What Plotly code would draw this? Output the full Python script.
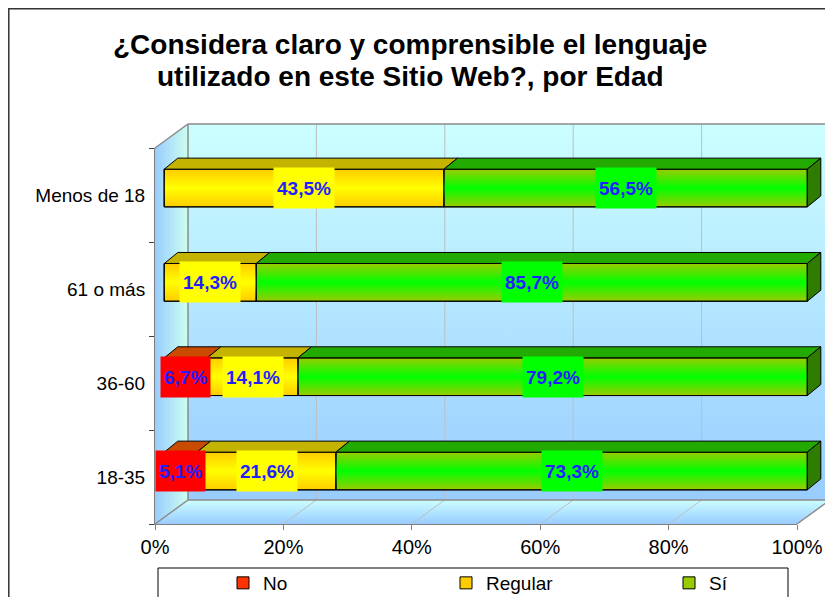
import plotly.graph_objects as go

# datos del grafico (porcentajes por grupo de edad)
categorias = ["18-35", "36-60", "61 o más", "Menos de 18"]
serie_no = [5.1, 6.7, 0.0, 0.0]
serie_regular = [21.6, 14.1, 14.3, 43.5]
serie_si = [73.3, 79.2, 85.7, 56.5]
nombres = ["No", "Regular", "Sí"]
ticks_x = [0, 20, 40, 60, 80, 100]
ticks_x_texto = ["0%", "20%", "40%", "60%", "80%", "100%"]

W, H = 833, 597
OFF = 8  # margen del <body> de la pagina

# geometria del "cubo" 3D en pixeles de pagina
FRONT_L, FRONT_R = 155, 797
FRONT_T, FRONT_B = 148, 524
DX, DY = 33, -24
BACK_L, BACK_R = FRONT_L + DX, FRONT_R + DX
BACK_T, BACK_B = FRONT_T + DY, FRONT_B + DY

# escala de las barras (pixel de 0% y pixeles por punto porcentual)
BAR0 = 164.3
PXU = 6.43
ROW0 = 471
STEP = 94.33
BAR_W = 0.4
FACE_DX = 13.5 / PXU
FACE_DY = 11 / STEP


def fx(p):
    return (p - OFF) / W


def fy(p):
    return 1 - (p - OFF) / H


fig = go.Figure()

# ---- paredes (subplot de fondo en pixeles) ----
def pared(xs, ys, tipo, c0, c1):
    fig.add_trace(go.Scatter(
        x=xs, y=ys, mode="none", fill="toself",
        fillgradient=dict(type=tipo, colorscale=[[0, c0], [1, c1]]),
        hoverinfo="skip", showlegend=False, xaxis="x", yaxis="y"))


pared([BACK_L, BACK_R, BACK_R, BACK_L, BACK_L], [BACK_T, BACK_T, BACK_B, BACK_B, BACK_T],
      "vertical", "#99CCFF", "#CCFFFF")
pared([FRONT_L, BACK_L, BACK_L, FRONT_L, FRONT_L], [FRONT_T, BACK_T, BACK_B, FRONT_B, FRONT_T],
      "horizontal", "#99CCFF", "#CCFFEE")
pared([FRONT_L, BACK_L, BACK_R, FRONT_R, FRONT_L], [FRONT_B, BACK_B, BACK_B, FRONT_B, FRONT_B],
      "vertical", "#99CCFF", "#CCFFFF")

# lineas de cuadricula
gx, gy = [], []
for v in ticks_x[1:-1]:
    off = (FRONT_R - FRONT_L) * v / 100
    gx += [BACK_L + off, BACK_L + off, None, FRONT_L + off, BACK_L + off, None]
    gy += [BACK_T, BACK_B, None, FRONT_B, BACK_B, None]
fig.add_trace(go.Scatter(x=gx, y=gy, mode="lines", line=dict(color="#BEBEBE", width=1),
                         hoverinfo="skip", showlegend=False, xaxis="x", yaxis="y"))

# bordes
bx = [FRONT_L, BACK_L, BACK_R, BACK_R, None, BACK_L, BACK_L, BACK_R, FRONT_R, None, FRONT_L, BACK_L]
by = [FRONT_T, BACK_T, BACK_T, BACK_B, None, BACK_T, BACK_B, BACK_B, FRONT_B, None, FRONT_B, BACK_B]
fig.add_trace(go.Scatter(x=bx, y=by, mode="lines", line=dict(color="#8C8C8C", width=1.5),
                         hoverinfo="skip", showlegend=False, xaxis="x", yaxis="y"))

# ---- barras ----
valores = {"No": serie_no, "Regular": serie_regular, "Sí": serie_si}
color_base = {"No": "#FF3300", "Regular": "#FFCC00", "Sí": "#99CC00"}
color_brillo = {"No": "255,60,0", "Regular": "255,255,0", "Sí": "0,255,0"}
color_techo = {"No": "#C84B00", "Regular": "#C4B400", "Sí": "#22AA00"}
color_etiqueta = {"No": "#FF0000", "Regular": "#FFFF00", "Sí": "#00FF00"}
filas = list(range(len(categorias)))

izq = [0.0] * len(categorias)
anot = []
for nombre in nombres:
    vals = valores[nombre]
    fig.add_trace(go.Bar(
        y=filas, x=vals, base=izq, orientation="h", width=BAR_W, name=nombre,
        marker=dict(color=color_base[nombre], line=dict(color="black", width=1)),
        hoverinfo="skip", xaxis="x2", yaxis="y2"))

    tx, ty = [], []
    for k, (b, v) in enumerate(zip(izq, vals)):
        if v <= 0:
            continue
        y0, y1 = k - BAR_W / 2, k + BAR_W / 2
        c = color_brillo[nombre]
        fig.add_trace(go.Scatter(
            x=[b, b + v, b + v, b, b], y=[y0, y0, y1, y1, y0], mode="lines", fill="toself",
            line=dict(color="black", width=1),
            fillgradient=dict(type="vertical", colorscale=[
                [0, f"rgba({c},0)"], [0.5, f"rgba({c},1)"], [1, f"rgba({c},0)"]]),
            hoverinfo="skip", showlegend=False, xaxis="x2", yaxis="y2"))
        tx += [b, b + v, b + v + FACE_DX, b + FACE_DX, b, None]
        ty += [y1, y1, y1 + FACE_DY, y1 + FACE_DY, y1, None]
        anot.append(dict(
            x=b + v / 2, y=k, xref="x2", yref="y2", showarrow=False,
            text="<b>" + f"{v:.1f}".replace(".", ",") + "%</b>",
            font=dict(size=19, color="#1F1FFF"), bgcolor=color_etiqueta[nombre],
            borderpad=3, height=34))
    fig.add_trace(go.Scatter(x=tx, y=ty, mode="lines", fill="toself",
                             fillcolor=color_techo[nombre], line=dict(color="black", width=1),
                             hoverinfo="skip", showlegend=False, xaxis="x2", yaxis="y2"))
    izq = [a + v for a, v in zip(izq, vals)]

# cara lateral derecha
sx, sy = [], []
for k, t in enumerate(izq):
    y0, y1 = k - BAR_W / 2, k + BAR_W / 2
    sx += [t, t + FACE_DX, t + FACE_DX, t, t, None]
    sy += [y0, y0 + FACE_DY, y1 + FACE_DY, y1, y0, None]
fig.add_trace(go.Scatter(x=sx, y=sy, mode="lines", fill="toself", fillcolor="#2F7D00",
                         line=dict(color="black", width=1),
                         hoverinfo="skip", showlegend=False, xaxis="x2", yaxis="y2"))

# ejes frontales
fig.add_trace(go.Scatter(x=[None], y=[None], showlegend=False, hoverinfo="skip",
                         xaxis="x3", yaxis="y3"))

titulo = ["¿Considera claro y comprensible el lenguaje",
          "utilizado en este Sitio Web?, por Edad"]
for linea, ypx in zip(titulo, [45, 77]):
    anot.append(dict(
        x=fx(410), y=fy(ypx), xref="paper", yref="paper", xanchor="center", yanchor="middle",
        showarrow=False, font=dict(size=28, color="black"), text="<b>" + linea + "</b>"))

fig.update_layout(
    width=W, height=H,
    margin=dict(l=0, r=0, t=0, b=0, autoexpand=False),
    paper_bgcolor="white", plot_bgcolor="rgba(0,0,0,0)",
    font=dict(family="Liberation Sans, Arial, sans-serif", color="black"),
    barmode="overlay", hovermode=False,
    annotations=anot,
    xaxis=dict(domain=[0, 1], range=[OFF, OFF + W], visible=False, fixedrange=True),
    yaxis=dict(domain=[0, 1], range=[OFF + H, OFF], visible=False, fixedrange=True),
    xaxis2=dict(domain=[fx(150), 1], range=[(150 - BAR0) / PXU, (OFF + W - BAR0) / PXU],
                visible=False, anchor="y2", fixedrange=True),
    yaxis2=dict(domain=[fy(545), fy(100)], range=[(ROW0 - 545) / STEP, (ROW0 - 100) / STEP],
                visible=False, anchor="x2", fixedrange=True),
    xaxis3=dict(domain=[fx(FRONT_L), fx(FRONT_R)], range=[0, 100], anchor="y3",
                tickvals=ticks_x, ticktext=ticks_x_texto, ticks="outside", ticklen=5,
                tickcolor="#808080", showline=True, linecolor="#808080", showgrid=False,
                zeroline=False, tickfont=dict(size=20), fixedrange=True, automargin=False),
    yaxis3=dict(domain=[fy(FRONT_B), fy(FRONT_T)], range=[-0.5, len(categorias) - 0.5],
                anchor="x3", tickvals=filas, ticktext=categorias, ticks="outside", ticklen=5,
                tickcolor="rgba(0,0,0,0)",
                minor=dict(tickvals=[i - 0.5 for i in range(len(categorias) + 1)],
                           ticks="outside", ticklen=5, tickcolor="#404040"),
                showline=True, linecolor="#808080", showgrid=False, zeroline=False,
                tickfont=dict(size=19), fixedrange=True, automargin=False),
    legend=dict(orientation="h", x=fx(223), xanchor="left", y=fy(564), yanchor="top",
                borderwidth=0, bgcolor="rgba(0,0,0,0)", font=dict(size=19),
                entrywidth=178, entrywidthmode="pixels", traceorder="normal"),
    shapes=[
        dict(type="rect", xref="paper", yref="paper", x0=fx(8.8), x1=1.05,
             y0=-0.05, y1=fy(8.8), line=dict(color="#333333", width=1.5)),
        dict(type="rect", xref="paper", yref="paper", x0=fx(158), x1=fx(788),
             y0=-0.05, y1=fy(568), line=dict(color="black", width=1), fillcolor="white",
             layer="below"),
    ],
)

fig.write_html("out.html", config={"displayModeBar": False})
